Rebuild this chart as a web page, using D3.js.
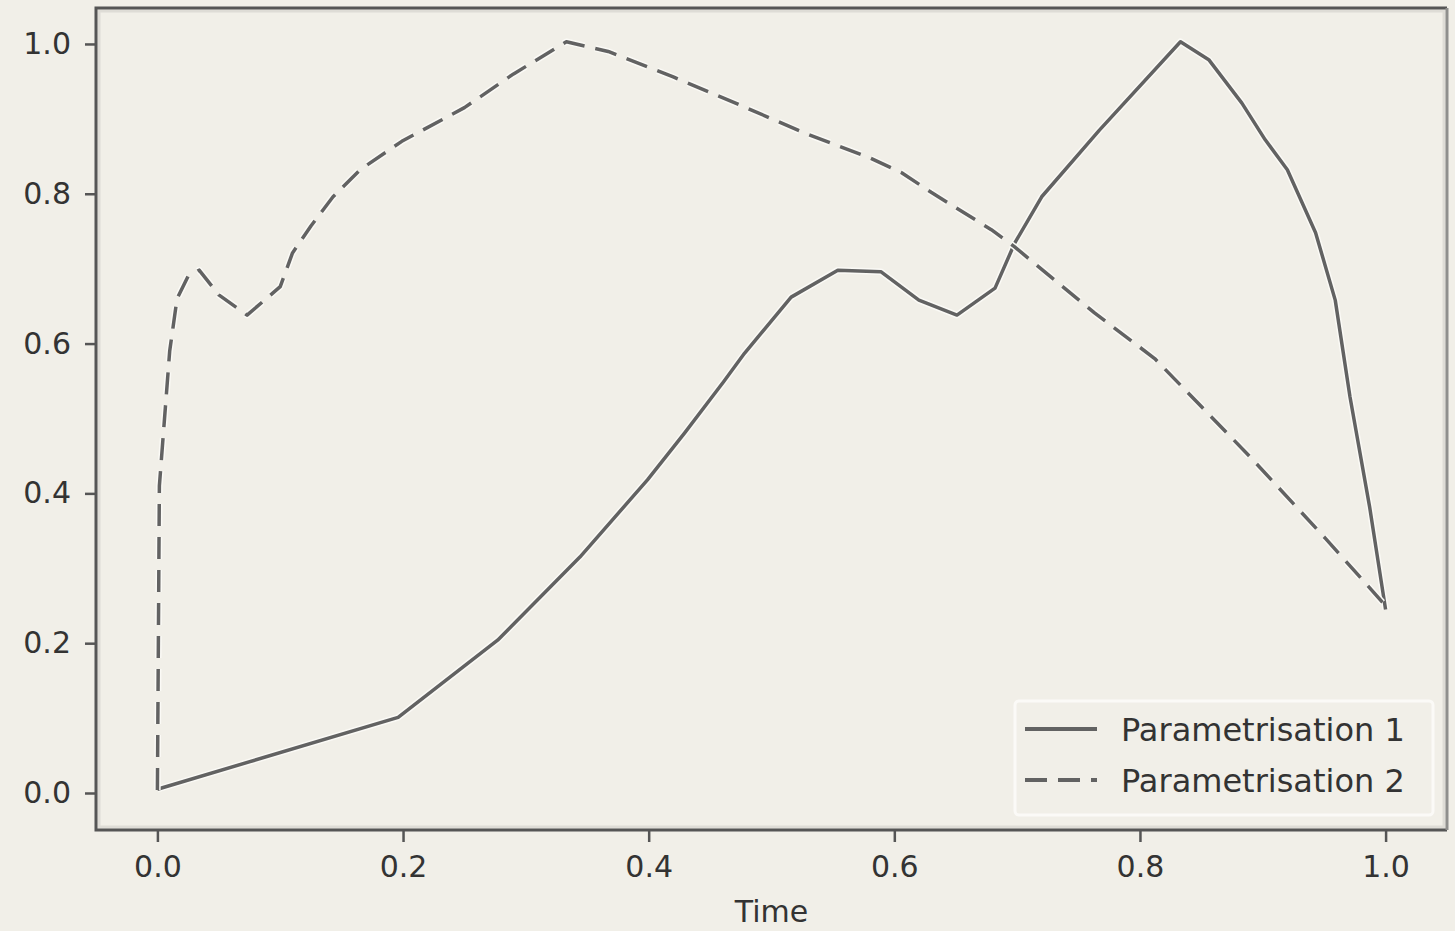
<!DOCTYPE html>
<html lang="en">
<head>
  <meta charset="UTF-8">
  <title>Parametrisations over time</title>
  <script src="https://d3js.org/d3.v7.min.js"></script>
  <style>
    body { margin: 0; background: #f1efe8; }
    svg { display: block; }
    .tick text { font-family: "DejaVu Sans", sans-serif; font-size: 30px; fill: #333; }
    .halo { fill: none; stroke: #fbfaf6; stroke-width: 6.5px; stroke-linejoin: round; }
    .series { fill: none; stroke: #626262; stroke-width: 3.5px; stroke-linejoin: round; }
    .legend text { font-family: "DejaVu Sans", sans-serif; font-size: 32px; fill: #333; }
  </style>
</head>
<body>
  <svg width="1455" height="931"></svg>
  <script>
    // values
    const time1 = [0, 0.196, 0.277, 0.344, 0.399, 0.429, 0.461, 0.478, 0.516, 0.554, 0.589, 0.620,
                   0.651, 0.682, 0.698, 0.720, 0.767, 0.833, 0.856, 0.883, 0.902, 0.920, 0.943,
                   0.959, 0.971, 0.987, 1.0];
    const param1 = [0.005, 0.101, 0.204, 0.315, 0.418, 0.480, 0.549, 0.587, 0.662, 0.698, 0.696, 0.658,
                    0.638, 0.674, 0.734, 0.796, 0.885, 1.003, 0.979, 0.921, 0.872, 0.832, 0.748,
                    0.658, 0.529, 0.382, 0.245];

    const time2 = [0, 0.0016, 0.010, 0.016, 0.025, 0.034, 0.050, 0.073, 0.100, 0.110, 0.125, 0.143,
                   0.165, 0.199, 0.250, 0.290, 0.333, 0.367, 0.420, 0.475, 0.527, 0.580, 0.606,
                   0.630, 0.679, 0.698, 0.763, 0.812, 0.889, 0.951, 1.0];
    const param2 = [0.004, 0.410, 0.590, 0.660, 0.690, 0.698, 0.665, 0.638, 0.676, 0.721, 0.757, 0.796,
                    0.832, 0.870, 0.915, 0.960, 1.003, 0.990, 0.956, 0.918, 0.881, 0.848, 0.828,
                    0.802, 0.752, 0.729, 0.641, 0.580, 0.450, 0.340, 0.250];

    const xTicks = [0, 0.2, 0.4, 0.6, 0.8, 1.0];
    const yTicks = [0, 0.2, 0.4, 0.6, 0.8, 1.0];
    const seriesNames = ["Parametrisation 1", "Parametrisation 2"];

    const box = { left: 96, right: 1447, top: 8, bottom: 830 };

    const svg = d3.select("svg");

    const x = d3.scaleLinear().domain([-0.05, 1.05]).range([box.left, box.right]);
    const y = d3.scaleLinear().domain([-0.0494, 1.048]).range([box.bottom, box.top]);

    const series = [
      { name: seriesNames[0], pts: time1.map((t, i) => [t, param1[i]]), dash: null },
      { name: seriesNames[1], pts: time2.map((t, i) => [t, param2[i]]), dash: "22,11" }
    ];

    const line = d3.line().x(d => x(d[0])).y(d => y(d[1]));

    // faint inner band along the frame
    svg.append("rect")
      .attr("x", box.left + 3).attr("y", box.top + 3)
      .attr("width", box.right - box.left - 6).attr("height", box.bottom - box.top - 6)
      .attr("fill", "none").attr("stroke", "#dedcd6").attr("stroke-width", 3);

    const plot = svg.append("g");
    series.forEach(s => {
      plot.append("path").attr("class", "halo").attr("d", line(s.pts))
        .attr("stroke-dasharray", s.dash);
      plot.append("path").attr("class", "series").attr("d", line(s.pts))
        .attr("stroke-dasharray", s.dash);
    });

    // axes
    const xAxis = svg.append("g")
      .attr("transform", `translate(0,${box.bottom})`)
      .call(d3.axisBottom(x).tickValues(xTicks).tickFormat(d3.format(".1f")).tickSize(12).tickPadding(12));
    const yAxis = svg.append("g")
      .attr("transform", `translate(${box.left},0)`)
      .call(d3.axisLeft(y).tickValues(yTicks).tickFormat(d3.format(".1f")).tickSize(11).tickPadding(14));
    [xAxis, yAxis].forEach(a => {
      a.select(".domain").remove();
      a.selectAll(".tick line").attr("stroke", "#555").attr("stroke-width", 2.5);
    });
    xAxis.selectAll(".tick text").attr("dy", "0.75em");

    // frame
    svg.append("path")
      .attr("d", `M${box.right},${box.top}H${box.left}V${box.bottom}H${box.right}`)
      .attr("fill", "none").attr("stroke", "#555").attr("stroke-width", 3);
    svg.append("line")
      .attr("x1", box.right).attr("x2", box.right).attr("y1", box.top).attr("y2", box.bottom)
      .attr("stroke", "#8f8f8d").attr("stroke-width", 3);

    svg.append("text")
      .attr("x", (box.left + box.right) / 2).attr("y", 922)
      .attr("text-anchor", "middle")
      .style("font-family", "DejaVu Sans, sans-serif").style("font-size", "30px").style("fill", "#333")
      .text("Time");

    // legend
    const legend = svg.append("g").attr("class", "legend");
    legend.append("rect")
      .attr("x", 1015).attr("y", 701).attr("width", 418).attr("height", 114).attr("rx", 4)
      .attr("fill", "#f1efe8").attr("stroke", "#fbfaf7").attr("stroke-width", 3);
    series.forEach((s, i) => {
      const ly = 729 + i * 51;
      legend.append("line")
        .attr("x1", 1025).attr("x2", 1097).attr("y1", ly).attr("y2", ly)
        .attr("stroke", "#626262").attr("stroke-width", 4)
        .attr("stroke-dasharray", s.dash);
      legend.append("text")
        .attr("x", 1121).attr("y", ly).attr("dy", "0.36em")
        .text(s.name);
    });
  </script>
</body>
</html>
